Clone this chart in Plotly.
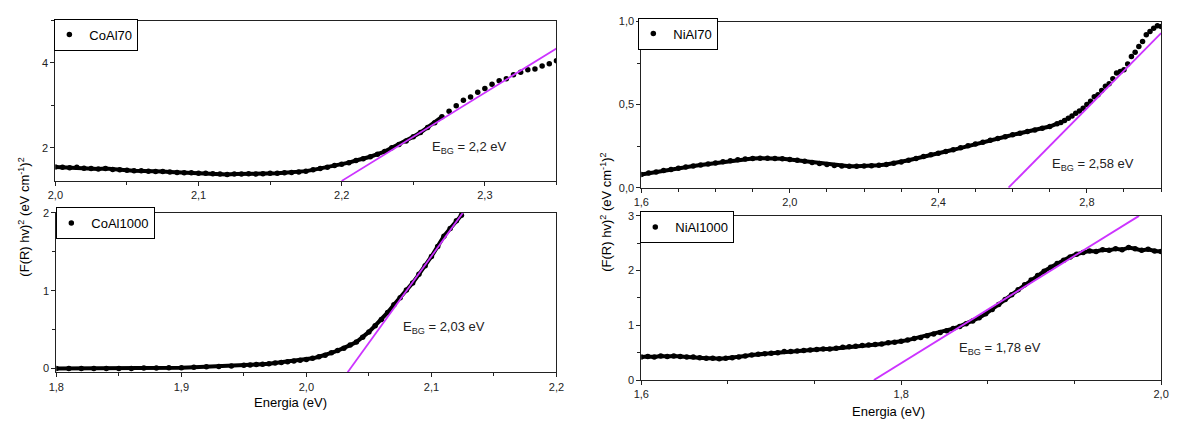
import plotly.graph_objects as go

W, H = 1178, 423

# ---------------- data ----------------
coal70_x = [2.000, 2.005, 2.010, 2.015, 2.020, 2.025, 2.030, 2.035, 2.040, 2.045,
            2.050, 2.055, 2.060, 2.065, 2.070, 2.075, 2.080, 2.085, 2.090, 2.095,
            2.100, 2.105, 2.110, 2.115, 2.120, 2.125, 2.130, 2.135, 2.140, 2.145,
            2.150, 2.155, 2.160, 2.165, 2.170, 2.175, 2.180, 2.185, 2.190, 2.195,
            2.200, 2.205, 2.210, 2.215, 2.220, 2.225, 2.230, 2.235, 2.240, 2.245,
            2.250, 2.255, 2.260, 2.265, 2.270, 2.275, 2.280, 2.285, 2.290, 2.295,
            2.300, 2.305, 2.310, 2.315, 2.320, 2.325, 2.330, 2.335, 2.340, 2.345, 2.350]
coal70_y = [1.55, 1.54, 1.53, 1.54, 1.52, 1.51, 1.50, 1.51, 1.49, 1.48,
            1.47, 1.46, 1.46, 1.45, 1.44, 1.44, 1.43, 1.42, 1.41, 1.41,
            1.40, 1.40, 1.39, 1.38, 1.37, 1.38, 1.38, 1.39, 1.38, 1.39,
            1.40, 1.40, 1.41, 1.42, 1.43, 1.45, 1.48, 1.51, 1.54, 1.58,
            1.61, 1.65, 1.70, 1.74, 1.79, 1.85, 1.91, 2.00, 2.08, 2.16,
            2.26, 2.36, 2.48, 2.59, 2.73, 2.86, 2.99, 3.12, 3.20, 3.31,
            3.40, 3.50, 3.58, 3.63, 3.72, 3.78, 3.84, 3.86, 3.93, 3.98, 4.05]

coal1000_x = [1.80, 1.81, 1.82, 1.83, 1.84, 1.85, 1.86, 1.87, 1.88, 1.89,
              1.90, 1.91, 1.92, 1.93, 1.94, 1.95, 1.955, 1.96, 1.965, 1.97,
              1.975, 1.98, 1.985, 1.99, 1.995, 2.000, 2.005, 2.010, 2.015, 2.020,
              2.025, 2.030, 2.035, 2.040, 2.045, 2.050, 2.055, 2.060, 2.065, 2.070,
              2.075, 2.080, 2.085, 2.090, 2.095, 2.100, 2.105, 2.110, 2.115, 2.120, 2.124]
coal1000_y = [0.00, 0.00, 0.00, 0.00, 0.00, 0.00, 0.00, 0.005, 0.005, 0.01,
              0.01, 0.015, 0.02, 0.025, 0.03, 0.04, 0.045, 0.05, 0.055, 0.06,
              0.07, 0.075, 0.085, 0.095, 0.105, 0.115, 0.13, 0.15, 0.17, 0.20,
              0.23, 0.26, 0.30, 0.34, 0.40, 0.47, 0.55, 0.63, 0.72, 0.82,
              0.91, 1.01, 1.10, 1.21, 1.32, 1.44, 1.57, 1.70, 1.80, 1.90, 1.97]

nial70_x = [1.60, 1.62, 1.64, 1.66, 1.68, 1.70, 1.72, 1.74, 1.76, 1.78,
            1.80, 1.82, 1.84, 1.86, 1.88, 1.90, 1.92, 1.94, 1.96, 1.98,
            2.00, 2.02, 2.04, 2.06, 2.08, 2.10, 2.12, 2.14, 2.16, 2.18,
            2.20, 2.22, 2.24, 2.26, 2.28, 2.30, 2.32, 2.34, 2.36, 2.38,
            2.40, 2.42, 2.44, 2.46, 2.48, 2.50, 2.52, 2.54, 2.56, 2.58,
            2.60, 2.62, 2.64, 2.66, 2.68, 2.70, 2.72, 2.73, 2.74, 2.75,
            2.76, 2.77, 2.78, 2.79, 2.80, 2.81, 2.82, 2.83, 2.84, 2.85,
            2.86, 2.87, 2.88, 2.89, 2.90, 2.91, 2.92, 2.93, 2.94, 2.95,
            2.96, 2.97, 2.98, 2.99, 3.00]
nial70_y = [0.080, 0.088, 0.095, 0.103, 0.110, 0.117, 0.124, 0.130, 0.136, 0.142,
            0.149, 0.156, 0.162, 0.168, 0.172, 0.175, 0.177, 0.177, 0.176, 0.174,
            0.170, 0.165, 0.159, 0.152, 0.145, 0.139, 0.134, 0.131, 0.129, 0.129,
            0.130, 0.132, 0.135, 0.140, 0.147, 0.155, 0.165, 0.176, 0.188, 0.198,
            0.208, 0.218, 0.228, 0.240, 0.252, 0.263, 0.274, 0.285, 0.296, 0.307,
            0.318, 0.328, 0.338, 0.348, 0.358, 0.368, 0.385, 0.392, 0.405, 0.418,
            0.432, 0.448, 0.462, 0.478, 0.500, 0.520, 0.548, 0.560, 0.585, 0.610,
            0.625, 0.655, 0.690, 0.700, 0.710, 0.745, 0.790, 0.815, 0.850, 0.880,
            0.920, 0.940, 0.960, 0.975, 0.970]

nial1000_x = [1.600, 1.605, 1.610, 1.615, 1.620, 1.625, 1.630, 1.635, 1.640, 1.645,
              1.650, 1.655, 1.660, 1.665, 1.670, 1.675, 1.680, 1.685, 1.690, 1.695,
              1.700, 1.705, 1.710, 1.715, 1.720, 1.725, 1.730, 1.735, 1.740, 1.745,
              1.750, 1.755, 1.760, 1.765, 1.770, 1.775, 1.780, 1.785, 1.790, 1.795,
              1.800, 1.805, 1.810, 1.815, 1.820, 1.825, 1.830, 1.835, 1.840, 1.845,
              1.850, 1.855, 1.860, 1.865, 1.870, 1.875, 1.880, 1.885, 1.890, 1.895,
              1.900, 1.905, 1.910, 1.915, 1.920, 1.925, 1.930, 1.935, 1.940, 1.945,
              1.950, 1.955, 1.960, 1.965, 1.970, 1.975, 1.980, 1.985, 1.990, 1.995, 2.000]
nial1000_y = [0.42, 0.43, 0.42, 0.44, 0.43, 0.44, 0.43, 0.42, 0.42, 0.41,
              0.40, 0.40, 0.39, 0.40, 0.41, 0.42, 0.44, 0.46, 0.47, 0.48,
              0.49, 0.50, 0.52, 0.52, 0.53, 0.54, 0.55, 0.56, 0.57, 0.57,
              0.58, 0.60, 0.61, 0.62, 0.63, 0.64, 0.65, 0.66, 0.68, 0.69,
              0.71, 0.73, 0.76, 0.78, 0.81, 0.84, 0.87, 0.90, 0.94, 0.98,
              1.03, 1.08, 1.14, 1.21, 1.29, 1.38, 1.47, 1.56, 1.65, 1.74,
              1.83, 1.91, 1.99, 2.06, 2.13, 2.19, 2.25, 2.30, 2.33, 2.36,
              2.35, 2.38, 2.37, 2.40, 2.38, 2.42, 2.40, 2.37, 2.39, 2.36, 2.35]

# linear fits (Tauc extrapolation)
fit_coal70_x = [2.20, 2.35]
fit_coal70_y = [1.22, 4.34]
fit_coal1000_x = [2.033, 2.125]
fit_coal1000_y = [-0.05, 2.0]
fit_nial70_x = [2.589, 3.0]
fit_nial70_y = [0.0, 0.93]
fit_nial1000_x = [1.779, 1.983]
fit_nial1000_y = [0.0, 3.0]

names = ["CoAl70", "CoAl1000", "NiAl70", "NiAl1000"]
ebg_labels = ["E<sub>BG</sub> = 2,2 eV", "E<sub>BG</sub> = 2,03 eV",
              "E<sub>BG</sub> = 2,58 eV", "E<sub>BG</sub> = 1,78 eV"]
ebg_pos = [(2.262, 2.0), (2.076, 0.52), (2.701, 0.14), (1.843, 0.57)]

# ---------------- layout helpers ----------------
FONT = "Liberation Sans, Arial, sans-serif"
MAG = "#CC33FF"

def xdom(l, r):
    return [l / W, r / W]

def ydom(t, b):
    return [1 - b / H, 1 - t / H]

panels = [
    dict(xd=xdom(48, 556), yd=ydom(15, 180), xr=[2.0, 2.35], yr=[1.22, 5.0],
         xdt=0.1, xmn=0.05, x0=2.0, ydt=2, ymn=1, y0=0, xf=".1f", yf="d"),
    dict(xd=xdom(49, 556), yd=ydom(213, 377), xr=[1.8, 2.2], yr=[-0.05, 2.0],
         xdt=0.1, xmn=0.05, x0=1.8, ydt=1, ymn=0.5, y0=0, xf=".1f", yf="d"),
    dict(xd=xdom(642, 1169), yd=ydom(16, 187), xr=[1.6, 3.0], yr=[0.0, 1.0],
         xdt=0.4, xmn=0.1, x0=1.6, ydt=0.5, ymn=0.25, y0=0, xf=".1f", yf=".1f"),
    dict(xd=xdom(642, 1169), yd=ydom(216, 385), xr=[1.6, 2.0], yr=[0.0, 3.0],
         xdt=0.2, xmn=0.2 / 3, x0=1.6, ydt=1, ymn=0.5, y0=0, xf=".1f", yf="d"),
]

datasets = [(coal70_x, coal70_y, 55), (coal1000_x, coal1000_y, None),
            (nial70_x, nial70_y, 57), (nial1000_x, nial1000_y, None)]
fits = [(fit_coal70_x, fit_coal70_y), (fit_coal1000_x, fit_coal1000_y),
        (fit_nial70_x, fit_nial70_y), (fit_nial1000_x, fit_nial1000_y)]

legend_pos = [(47, 13), (49, 207), (639, 12), (641, 211)]

fig = go.Figure()
layout = dict(width=W, height=H, autosize=False,
              margin=dict(l=0, r=0, t=0, b=0),
              paper_bgcolor="white", plot_bgcolor="white",
              separators=",.", font=dict(family=FONT, size=11, color="black"),
              showlegend=True)

annotations = []
for i, p in enumerate(panels):
    k = "" if i == 0 else str(i + 1)
    xa, ya = "x" + k, "y" + k
    leg = "legend" + k
    dx, dy, cut = datasets[i]
    lx = dx if cut is None else dx[:cut]
    ly = dy if cut is None else dy[:cut]
    fig.add_trace(go.Scatter(x=lx, y=ly, mode="lines", xaxis=xa, yaxis=ya,
                             line=dict(color="black", width=4), showlegend=False,
                             hoverinfo="skip"))
    fig.add_trace(go.Scatter(x=dx, y=dy, mode="markers", xaxis=xa, yaxis=ya,
                             name=names[i], legend=leg,
                             marker=dict(color="black", size=5.5)))
    fx, fy = fits[i]
    fig.add_trace(go.Scatter(x=fx, y=fy, mode="lines", xaxis=xa, yaxis=ya,
                             line=dict(color=MAG, width=1.8), showlegend=False))

    axcommon = dict(showgrid=False, zeroline=False, showline=True, mirror=True,
                    linecolor="#222", linewidth=1, ticks="outside", ticklen=4,
                    tickwidth=1, tickcolor="#222",
                    tickfont=dict(family=FONT, size=11, color="#222"))
    layout["xaxis" + k] = dict(domain=p["xd"], range=p["xr"], anchor=ya,
                               tickmode="linear", tick0=p["x0"], dtick=p["xdt"],
                               tickformat=p["xf"],
                               minor=dict(ticks="outside", ticklen=3, tickcolor="#222",
                                          tick0=p["x0"], dtick=p["xmn"]),
                               **axcommon)
    layout["yaxis" + k] = dict(domain=p["yd"], range=p["yr"], anchor=xa,
                               tickmode="linear", tick0=p["y0"], dtick=p["ydt"],
                               tickformat=p["yf"],
                               minor=dict(ticks="outside", ticklen=3, tickcolor="#222",
                                          tick0=p["y0"], dtick=p["ymn"]),
                               **axcommon)
    lx0, ly0 = legend_pos[i]
    layout[leg] = dict(x=lx0 / W, y=1 - ly0 / H, xanchor="left", yanchor="top",
                       bordercolor="black", borderwidth=1, bgcolor="white",
                       font=dict(family=FONT, size=13, color="black"),
                       itemwidth=30, tracegroupgap=0, indentation=-6)
    ex, ey = ebg_pos[i]
    annotations.append(dict(x=ex, y=ey, xref=xa, yref=ya, text=ebg_labels[i],
                            showarrow=False, xanchor="left", yanchor="middle",
                            font=dict(family=FONT, size=13, color="#222")))

ytitle = "(F(R) hv)<sup>2</sup> (eV cm<sup>-1</sup>)<sup>2</sup>"
annotations += [
    dict(x=16 / W, y=1 - 217 / H, xref="paper", yref="paper", text=ytitle,
         textangle=-90, showarrow=False, xanchor="center", yanchor="middle",
         font=dict(family=FONT, size=13, color="black")),
    dict(x=606 / W, y=1 - 212 / H, xref="paper", yref="paper", text=ytitle,
         textangle=-90, showarrow=False, xanchor="center", yanchor="middle",
         font=dict(family=FONT, size=13, color="black")),
    dict(x=286 / W, y=1 - 408 / H, xref="paper", yref="paper", text="Energia (eV)",
         showarrow=False, xanchor="center", yanchor="middle",
         font=dict(family=FONT, size=13, color="black")),
    dict(x=893 / W, y=1 - 417 / H, xref="paper", yref="paper", text="Energia (eV)",
         showarrow=False, xanchor="center", yanchor="middle",
         font=dict(family=FONT, size=13, color="black")),
]
layout["annotations"] = annotations
fig.update_layout(**layout)
fig.write_html("out.html")
